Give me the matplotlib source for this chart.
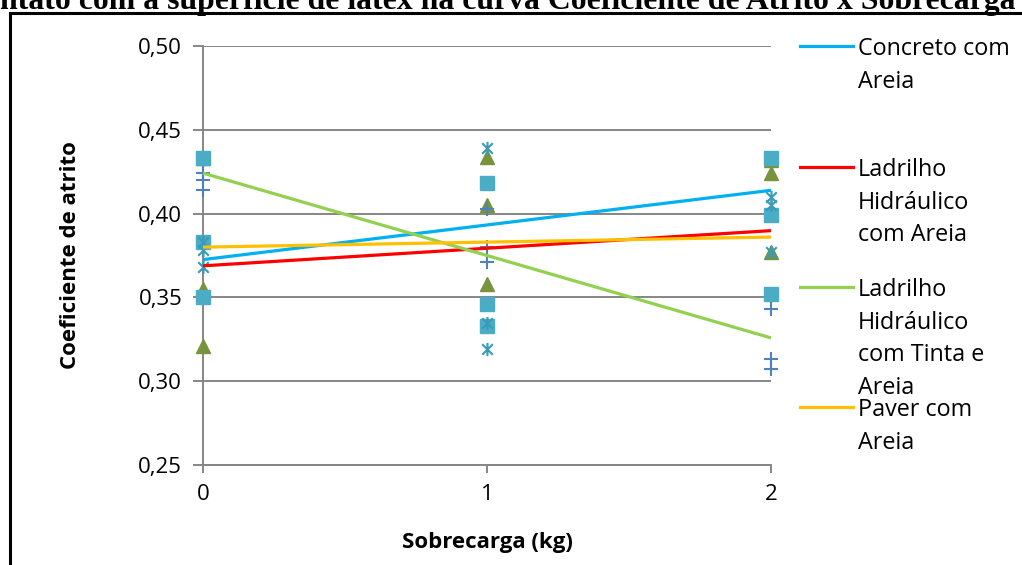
import numpy as np
import matplotlib
matplotlib.use('Agg')
import matplotlib.pyplot as plt
from matplotlib.lines import Line2D
from matplotlib.patches import Rectangle
from matplotlib.path import Path

plt.rcParams['font.family'] = ['Open Sans', 'DejaVu Sans']

# sobrecarga (kg), three readings per load
LOADS = [0, 0, 0, 1, 1, 1, 2, 2, 2]

CONCRETO = [0.433, 0.355, 0.321, 0.434, 0.405, 0.358, 0.424, 0.377, 0.432]
LADRILHO = [0.383, 0.378, 0.368, 0.439, 0.335, 0.319, 0.410, 0.405, 0.377]
LADRILHO_TINTA = [0.424, 0.420, 0.414, 0.403, 0.380, 0.371, 0.343, 0.313, 0.307]
PAVER = [0.433, 0.383, 0.350, 0.418, 0.346, 0.333, 0.433, 0.399, 0.352]

LABELS = ['Concreto com\nAreia',
          'Ladrilho\nHidráulico\ncom Areia',
          'Ladrilho\nHidráulico\ncom Tinta e\nAreia',
          'Paver com\nAreia']
TREND_COLORS = ['#00B0F0', '#FF0000', '#92D050', '#FFC000']

YTICKS = [0.25, 0.30, 0.35, 0.40, 0.45, 0.50]
XTICKS = [0, 1, 2]

TITLE = ('ntato com a superfície de látex na curva '
         'Coeficiente de Atrito x Sobrecarga')

# asterisk marker: an X with a vertical bar
STAR = Path([(-1, -1), (1, 1), (-1, 1), (1, -1), (0, -1.25), (0, 1.25)],
            [Path.MOVETO, Path.LINETO] * 3)

W, H = 1022, 565
fig = plt.figure(figsize=(W / 100, H / 100), dpi=100)
ax = fig.add_axes([203 / W, 100 / H, (771 - 203) / W, (465 - 46) / H])

x = np.array(LOADS, dtype=float)
series = [CONCRETO, LADRILHO, LADRILHO_TINTA, PAVER]

ax.plot(x, CONCRETO, ls='none', marker='^', ms=10.5, color='#77933C',
        mec='#77933C', clip_on=False, zorder=3)
ax.plot(x, PAVER, ls='none', marker='s', ms=10.5, color='#4BACC6',
        mec='#4BACC6', clip_on=False, zorder=3)
ax.plot(x, LADRILHO, ls='none', marker=STAR, ms=9.5, color='#3A9AB8',
        mew=1.5, mfc='none', clip_on=False, zorder=3)
ax.plot(x, LADRILHO_TINTA, ls='none', marker='+', ms=10, color='#4F81BD',
        mew=1.5, clip_on=False, zorder=3)

# linear trendlines
xs = np.array([0.0, 2.0])
for vals, col in zip(series, TREND_COLORS):
    k, b = np.polyfit(x, vals, 1)
    ax.plot(xs, k * xs + b, color=col, lw=2.3, solid_capstyle='butt',
            clip_on=False, zorder=4)

ax.set_xlim(0, 2)
ax.set_ylim(0.25, 0.50)
ax.set_xticks(XTICKS)
ax.set_yticks(YTICKS)
ax.set_yticklabels([f'{v:.2f}'.replace('.', ',') for v in YTICKS])
ax.grid(axis='y', color='#868686', lw=1.4)
ax.set_axisbelow(True)
for side in ('top', 'right'):
    ax.spines[side].set_visible(False)
for side in ('left', 'bottom'):
    ax.spines[side].set_color('#868686')
    ax.spines[side].set_linewidth(1.4)
ax.tick_params(axis='y', length=7, width=1.4, color='#868686', pad=8,
               labelsize=16)
ax.tick_params(axis='x', length=6, width=1.4, color='#868686', pad=8,
               labelsize=16)
ax.set_xlabel('Sobrecarga (kg)', fontsize=16, fontweight='bold', labelpad=19)
ax.set_ylabel('Coeficiente de atrito', fontsize=16, fontweight='bold')
ax.yaxis.set_label_coords(-0.215, 0.5)

# legend with trendline entries only
leg_y = [46, 167, 287, 407]
for lab, col, yy in zip(LABELS, TREND_COLORS, leg_y):
    fy = 1 - yy / H
    fig.add_artist(Line2D([800 / W, 853 / W], [fy, fy], color=col, lw=2.3))
    fig.text(858 / W, fy + 9 / H, lab, fontsize=16.8, va='top', ha='left',
             linespacing=1.48)

# chart frame and clipped title
fig.add_artist(Rectangle((10 / W, -0.1), 1.2, 1 - 13 / H + 0.1,
                         fill=False, ec='black', lw=2.2))
fig.text(0, 1 - 9 / H, TITLE, fontsize=22.9, fontweight='bold',
         family='Liberation Serif', ha='left', va='baseline')

fig.savefig('out.png', dpi=100)
